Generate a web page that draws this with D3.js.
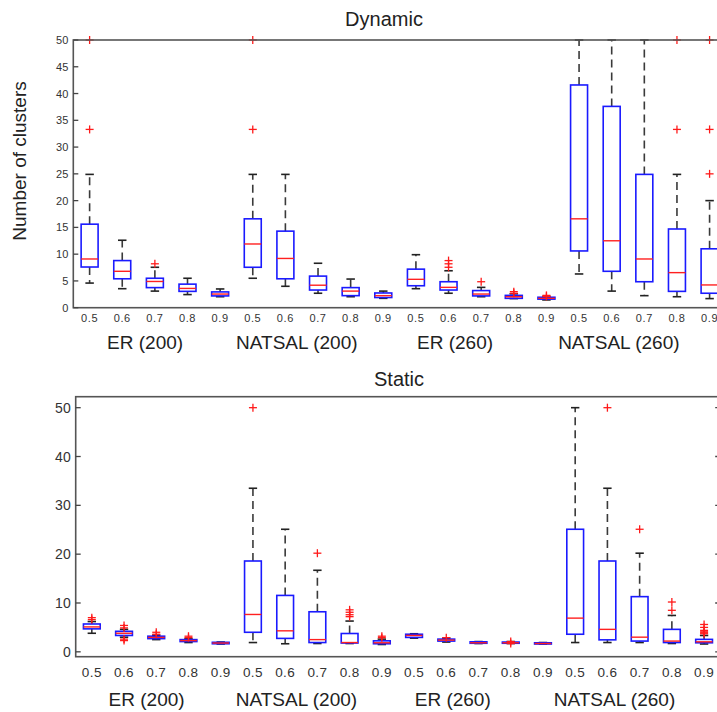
<!DOCTYPE html>
<html>
<head>
<meta charset="utf-8">
<script src="https://cdn.jsdelivr.net/npm/d3@7"></script>
<style>
  html, body { margin: 0; padding: 0; background: #fff; }
  svg { display: block; font-family: "Liberation Sans", Arial, sans-serif; }
</style>
</head>
<body>
<svg id="chart" width="717" height="712"></svg>
<script>
// Thresholds within each network group, and the four network groups
const thresholds = ["0.5", "0.6", "0.7", "0.8", "0.9"];
const networks = ["ER (200)", "NATSAL (200)", "ER (260)", "NATSAL (260)"];

// Dynamic: box statistics per (network, threshold), 20 boxes in order
const dynLow  = [4.6, 3.55, 3.1, 2.45, 2.05,  5.5, 4.0, 2.7, 2.05, 1.75,  3.55, 2.7, 2.05, 1.7, 1.45,  6.3, 3.1, 2.25, 2.05, 1.7];
const dynQ1   = [7.6, 5.4, 3.75, 3.05, 2.2,  7.55, 5.4, 3.3, 2.25, 1.9,  4.1, 3.3, 2.2, 1.75, 1.6,  10.6, 6.8, 4.85, 3.05, 2.7];
const dynMed  = [9.1, 6.8, 4.9, 3.6, 2.55,  11.9, 9.2, 4.2, 3.1, 2.25,  5.3, 3.8, 2.55, 2.05, 1.75,  16.6, 12.5, 9.1, 6.55, 4.25];
const dynQ3   = [15.6, 8.8, 5.5, 4.4, 2.95,  16.6, 14.3, 5.9, 3.75, 2.75,  7.2, 4.85, 3.2, 2.3, 1.95,  41.6, 37.6, 24.9, 14.7, 11.0];
const dynHigh = [24.9, 12.6, 7.55, 5.5, 3.5,  24.9, 24.9, 8.3, 5.35, 3.1,  9.9, 6.9, 3.8, 2.6, 2.1,  50, 50, 50, 24.9, 20.0];
const dynOut  = [[33.3, 50], [], [8.2], [], [],
                 [33.3, 50], [], [], [], [],
                 [], [7.55, 8.2, 8.8], [4.85], [2.7, 3.0], [2.1, 2.3],
                 [], [], [], [33.3, 50], [25, 33.3, 50]];

// Static: box statistics per (network, threshold)
const stLow  = [3.8, 3.0, 2.5, 1.9, 1.6,  1.9, 1.65, 1.7, 1.7, 1.5,  2.8, 2.0, 1.7, 1.7, 1.6,  1.9, 1.9, 1.9, 1.7, 1.6];
const stQ1   = [4.7, 3.35, 2.7, 2.1, 1.65,  4.0, 2.75, 1.9, 1.8, 1.65,  2.95, 2.2, 1.75, 1.75, 1.6,  3.6, 2.45, 2.2, 1.9, 1.85];
const stMed  = [5.1, 3.8, 2.95, 2.3, 1.8,  7.65, 4.3, 2.5, 1.9, 1.85,  3.35, 2.4, 1.85, 1.85, 1.7,  6.9, 4.6, 3.0, 2.2, 2.05];
const stQ3   = [5.7, 4.2, 3.2, 2.5, 1.95,  18.6, 11.55, 8.2, 3.75, 2.25,  3.6, 2.6, 2.05, 2.0, 1.85,  25.1, 18.6, 11.3, 4.6, 2.55];
const stHigh = [6.2, 4.6, 3.4, 2.7, 2.0,  33.5, 25.1, 16.7, 6.3, 2.6,  3.7, 2.8, 2.1, 2.1, 1.9,  50, 33.5, 20.2, 7.45, 3.35];
const stOut  = [[6.6, 7.0], [2.3, 2.6, 4.9, 5.4], [3.6, 4.0], [2.9, 3.2], [],
                [50], [], [20.2], [7.2, 7.6, 8.1, 8.6], [2.9, 3.2],
                [], [2.9], [], [1.7, 2.1], [],
                [], [50], [25.1], [8.5, 10.2], [3.7, 3.9, 4.1, 4.4, 5.0, 5.6]];

const dynTicks = d3.range(0, 51, 5);
const stTicks = d3.range(0, 51, 10);

const svg = d3.select("#chart");
const slots = d3.range(networks.length * thresholds.length);

function drawPanel(p) {
  const g = svg.append("g");
  const x = d3.scaleBand().domain(slots).range([p.left, p.right]).padding(0);
  const y = d3.scaleLinear().domain(p.yDomain).range([p.bottom, p.top]);
  const bw = x.bandwidth();
  const boxW = bw * 0.52;
  const capW = boxW * 0.5;
  const cx = i => x(i) + bw / 2;

  const rows = slots.map(i => ({
    i, lo: p.low[i], q1: p.q1[i], med: p.med[i], q3: p.q3[i], hi: p.high[i], out: p.out[i]
  }));

  // whiskers
  const wh = g.append("g").attr("stroke", "#3a3a3a").attr("stroke-width", 1.6)
    .attr("stroke-dasharray", "8,5");
  rows.forEach(r => {
    wh.append("line").attr("x1", cx(r.i)).attr("x2", cx(r.i))
      .attr("y1", y(r.q3)).attr("y2", y(r.hi));
    wh.append("line").attr("x1", cx(r.i)).attr("x2", cx(r.i))
      .attr("y1", y(r.q1)).attr("y2", y(r.lo));
  });
  // whisker caps
  const caps = g.append("g").attr("stroke", "#222").attr("stroke-width", 1.6);
  rows.forEach(r => {
    [r.lo, r.hi].forEach(v => {
      caps.append("line").attr("x1", cx(r.i) - capW / 2).attr("x2", cx(r.i) + capW / 2)
        .attr("y1", y(v)).attr("y2", y(v));
    });
  });
  // boxes
  g.append("g").selectAll("rect").data(rows).join("rect")
    .attr("x", d => cx(d.i) - boxW / 2)
    .attr("y", d => y(d.q3))
    .attr("width", boxW)
    .attr("height", d => Math.max(1, y(d.q1) - y(d.q3)))
    .attr("fill", "none").attr("stroke", "#1a1aff").attr("stroke-width", 1.6);
  // medians
  g.append("g").selectAll("line").data(rows).join("line")
    .attr("x1", d => cx(d.i) - boxW / 2).attr("x2", d => cx(d.i) + boxW / 2)
    .attr("y1", d => y(d.med)).attr("y2", d => y(d.med))
    .attr("stroke", "#ff2020").attr("stroke-width", 1.4);
  // outliers as red plus markers
  const pts = [];
  rows.forEach(r => r.out.forEach(v => pts.push({ i: r.i, v })));
  const arm = 4;
  const om = g.append("g").attr("stroke", "#ff1a1a").attr("stroke-width", 1.3);
  pts.forEach(d => {
    om.append("line").attr("x1", cx(d.i) - arm).attr("x2", cx(d.i) + arm)
      .attr("y1", y(d.v)).attr("y2", y(d.v));
    om.append("line").attr("x1", cx(d.i)).attr("x2", cx(d.i))
      .attr("y1", y(d.v) - arm).attr("y2", y(d.v) + arm);
  });

  // frame
  g.append("rect").attr("x", p.left).attr("y", p.top)
    .attr("width", p.right - p.left).attr("height", p.bottom - p.top)
    .attr("fill", "none").attr("stroke", "#555").attr("stroke-width", 1.6);

  // y axis ticks inward, left and right
  const tk = g.append("g").attr("stroke", "#444").attr("stroke-width", 1.3);
  p.ticks.forEach(t => {
    tk.append("line").attr("x1", p.left).attr("x2", p.left + 5).attr("y1", y(t)).attr("y2", y(t));
    tk.append("line").attr("x1", p.right - 5).attr("x2", p.right).attr("y1", y(t)).attr("y2", y(t));
  });
  g.append("g").selectAll("text").data(p.ticks).join("text")
    .attr("x", p.left - 5).attr("y", d => y(d))
    .attr("dy", "0.36em").attr("text-anchor", "end")
    .attr("font-size", p.yTickSize).attr("fill", "#333")
    .text(d => d);

  // threshold labels under each box
  g.append("g").selectAll("text").data(slots).join("text")
    .attr("x", i => cx(i)).attr("y", p.xTickY)
    .attr("text-anchor", "middle").attr("font-size", p.xTickSize)
    .attr("letter-spacing", p.xTickSpacing).attr("fill", "#333")
    .text(i => thresholds[i % thresholds.length]);

  // network group labels
  const shift = [-0.3, -0.65, -0.8, -0.78];
  g.append("g").selectAll("text").data(networks).join("text")
    .attr("x", (d, k) => cx(k * thresholds.length + 2) + shift[k] * bw)
    .attr("y", p.groupY)
    .attr("text-anchor", "middle").attr("font-size", 19).attr("fill", "#222")
    .text(d => d);

  // title
  g.append("text").attr("x", p.titleX).attr("y", p.titleY)
    .attr("text-anchor", "middle").attr("font-size", 20).attr("fill", "#222")
    .text(p.title);
}

drawPanel({
  title: "Dynamic", titleX: 384, titleY: 26,
  left: 73.3, right: 725.9, top: 40, bottom: 307.7,
  yDomain: [0, 50], ticks: dynTicks, yTickSize: 11,
  low: dynLow, q1: dynQ1, med: dynMed, q3: dynQ3, high: dynHigh, out: dynOut,
  xTickY: 321.5, xTickSize: 11, xTickSpacing: 0.6, groupY: 349
});

drawPanel({
  title: "Static", titleX: 399, titleY: 386,
  left: 75.7, right: 720.2, top: 396.7, bottom: 656.7,
  yDomain: [-1, 52.25], ticks: stTicks, yTickSize: 14,
  low: stLow, q1: stQ1, med: stMed, q3: stQ3, high: stHigh, out: stOut,
  xTickY: 677, xTickSize: 13.5, xTickSpacing: 0.4, groupY: 706
});

// y-axis label of the dynamic panel
svg.append("text")
  .attr("transform", "translate(26,161) rotate(-90)")
  .attr("text-anchor", "middle").attr("font-size", 19).attr("fill", "#222")
  .text("Number of clusters");
</script>
</body>
</html>
